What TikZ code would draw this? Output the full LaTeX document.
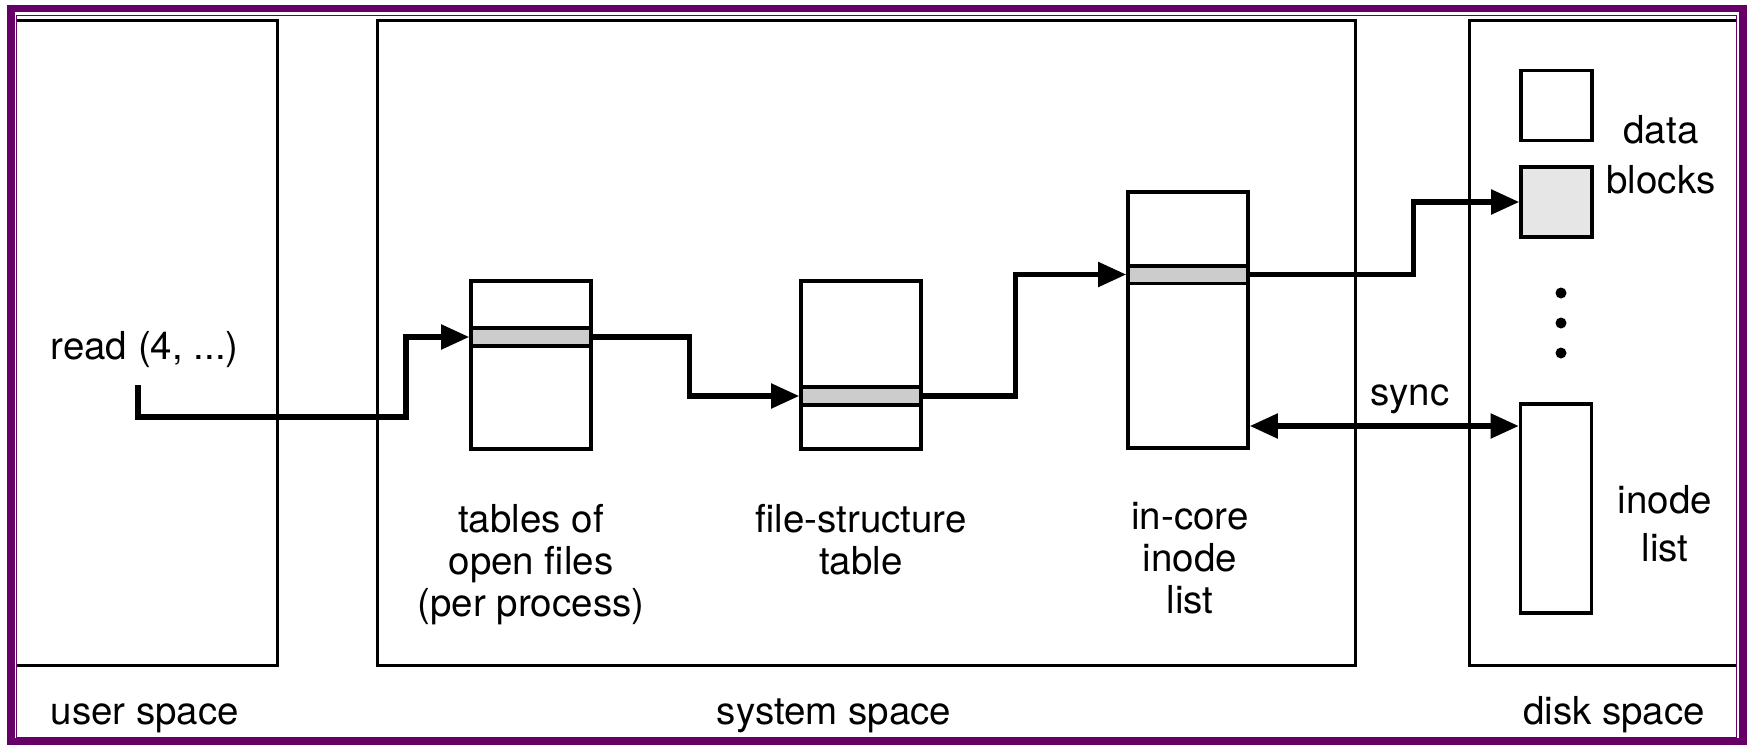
\documentclass[tikz,border=0pt]{standalone}
\usepackage{fontspec}
\setmainfont{TeX Gyre Heros}
\usetikzlibrary{arrows.meta}
\definecolor{framepurple}{RGB}{102,0,102}
\definecolor{slotgray}{RGB}{204,204,204}
\definecolor{blockgray}{RGB}{230,230,230}
\newcommand{\drawspace}{\draw[line width=0.85pt]}
\newcommand{\drawflow}{\draw[line width=1.45pt,-{Triangle[length=2.8mm,width=2.4mm]}]}
\tikzset{
  tbl/.style={draw,line width=1pt,inner sep=0pt,minimum width=1.2cm},
  slot/.style={tbl,fill=slotgray,minimum height=0.175cm},
  blk/.style={draw,line width=1pt,inner sep=0pt,minimum width=0.71cm,minimum height=0.7cm},
  txt/.style={inner sep=0pt,align=center},
  tight/.style={font=\fontsize{10.95}{11.95}\selectfont}
}

\begin{document}
\begin{tikzpicture}[x=0.01cm,y=-0.01cm,font=\fontsize{10.95}{13.66}\selectfont]
\useasboundingbox (0,0) rectangle (1750,745);
\drawspace (17,20.5)--(277.5,20.5)--(277.5,665)--(17,665);
    \drawspace (377.5,20.5) rectangle (1355,665);
    \drawspace (1736,20.5)--(1469,20.5)--(1469,665)--(1736,665);
\draw[framepurple,line width=2.1pt] (11,8.5) rectangle (1743,741.5);
\draw[framepurple,line width=0.5pt] (16.5,15.5) rectangle (1736.5,737.5);
\node[tbl,minimum height=1.68cm] (of) at (531,365) {};
\node[slot] (ofslot) at (531,337) {};
\node[tbl,minimum height=1.68cm] (fs) at (861,365) {};
\node[slot] (fsslot) at (861,396) {};
\node[tbl,minimum height=2.56cm] (ic) at (1188,320) {};
\node[slot] (icslot) at (1188,274.5) {};
\node[blk] (blk1) at (1556.5,105.5) {};
\node[blk,fill=blockgray] (blk2) at (1556.5,202) {};
\node[blk,minimum height=2.09cm] (il) at (1556,508.5) {};
\foreach \y in {293,323,353}{
  \fill (1561,\y) circle (0.55mm);
}
\node[txt,anchor=base west] (rd) at (50,359) {read (4, ...)};
\node[txt,tight,anchor=north] (oftxt) at (531,504) {tables of\\open files\\(per process)};
\node[txt,tight,anchor=north] (fstxt) at (861,504) {file-structure\\table};
\node[txt,tight,anchor=north] (ictxt) at (1190,502) {in-core\\inode\\list};
\node[txt,anchor=north,font=\fontsize{10.95}{14.2}\selectfont] (blktxt) at (1661,115) {data\\blocks};
\node[txt,anchor=north] (iltxt) at (1665,485) {inode\\list};
\node[txt,anchor=base] (synctxt) at (1410,405) {sync};
\node[txt,anchor=base west] (user) at (50,724) {user space};
\node[txt,anchor=base] (sys) at (834,724) {system space};
\node[txt,anchor=base] (disk) at (1614,724) {disk space};
\coordinate (call) at (138,385);
\coordinate (sy) at (1400,426);
\drawflow (call) |- ++(268,32) |- (ofslot.west);
\drawflow (ofslot.east) -- ++(97,0) |- (fsslot.west);
\drawflow (fsslot.east) -- ++(93,0) |- (icslot.west);
\drawflow (icslot.east) -- ++(164,0) |- (blk2.west);
\draw[line width=1.45pt,{Triangle[length=2.8mm,width=2.4mm]}-{Triangle[length=2.8mm,width=2.4mm]}] (ic.east |- sy) -- (il.west |- sy);
\end{tikzpicture}
\end{document}
